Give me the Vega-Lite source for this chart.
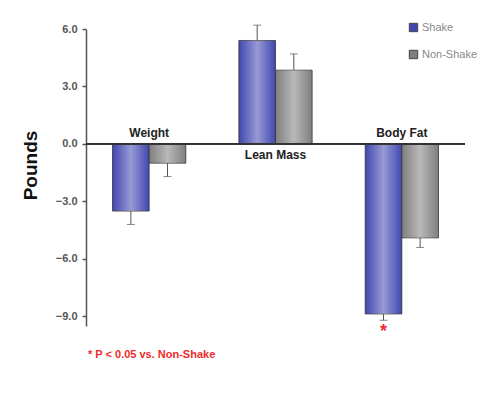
{
  "$schema": "https://vega.github.io/schema/vega-lite/v6.json",
  "width": 379,
  "height": 297,
  "autosize": "none",
  "padding": {"left": 86, "top": 29, "right": 33, "bottom": 70},
  "background": "white",
  "config": {
    "font": "Liberation Sans",
    "view": {"stroke": null}
  },
  "title": {
    "text": "* P < 0.05 vs. Non-Shake",
    "orient": "bottom",
    "anchor": "start",
    "frame": "group",
    "color": "#ee2b2b",
    "fontSize": 11,
    "fontWeight": "bold",
    "offset": 8,
    "dx": 2,
    "font": "Liberation Sans"
  },
  "data": {
    "values": [
      {"measure": "Weight", "group": "Shake", "value": -3.5, "err": -4.2, "sig": ""},
      {"measure": "Weight", "group": "Non-Shake", "value": -1.0, "err": -1.7, "sig": ""},
      {"measure": "Lean Mass", "group": "Shake", "value": 5.4, "err": 6.2, "sig": ""},
      {"measure": "Lean Mass", "group": "Non-Shake", "value": 3.85, "err": 4.7, "sig": ""},
      {"measure": "Body Fat", "group": "Shake", "value": -8.87, "err": -9.2, "sig": "*"},
      {"measure": "Body Fat", "group": "Non-Shake", "value": -4.9, "err": -5.4, "sig": ""}
    ]
  },
  "encoding": {
    "x": {
      "field": "measure",
      "type": "nominal",
      "sort": ["Weight", "Lean Mass", "Body Fat"],
      "scale": {"paddingInner": 0.42, "paddingOuter": 0.21},
      "axis": null
    },
    "y": {
      "field": "value",
      "type": "quantitative",
      "scale": {"domain": [-9.5, 6], "nice": false, "zero": false},
      "axis": {
        "title": "Pounds",
        "values": [-9, -6, -3, 0, 3, 6],
        "format": ".1f",
        "grid": false,
        "domainColor": "#555",
        "domainWidth": 1.5,
        "tickColor": "#555",
        "tickSize": 4,
        "tickWidth": 1.5,
        "labelColor": "#555",
        "labelFontSize": 11,
        "labelFontWeight": "bold",
        "labelPadding": 5,
        "titleFontSize": 19,
        "titleFontWeight": "bold",
        "titleColor": "#111",
        "titleAngle": 270,
        "titleX": -56,
        "titleY": 136,
        "titleAlign": "center",
        "titleBaseline": "middle"
      }
    }
  },
  "layer": [
    {
      "mark": {"type": "bar", "stroke": "#333", "strokeWidth": 0.8},
      "encoding": {
        "xOffset": {"field": "group", "type": "nominal", "sort": ["Shake", "Non-Shake"], "scale": {"paddingInner": 0}},
        "color": {
          "field": "group",
          "type": "nominal",
          "sort": ["Shake", "Non-Shake"],
          "scale": {"domain": ["Shake", "Non-Shake"], "range": ["#4247b0", "#7f7f7f"]},
          "legend": {
            "title": null,
            "orient": "none",
            "legendX": 322,
            "legendY": -7,
            "symbolType": "square",
            "symbolSize": 70,
            "symbolStrokeColor": "#444",
            "symbolStrokeWidth": 1,
            "labelFontSize": 11,
            "labelColor": "#8a8a8a",
            "rowPadding": 14,
            "labelOffset": 3
          }
        }
      }
    },
    {
      "mark": {
        "type": "bar",
        "fill": {
          "gradient": "linear",
          "x1": 0, "x2": 1, "y1": 0, "y2": 0,
          "stops": [
            {"offset": 0, "color": "rgba(255,255,255,0)"},
            {"offset": 0.5, "color": "rgba(255,255,255,0.45)"},
            {"offset": 1, "color": "rgba(255,255,255,0)"}
          ]
        }
      },
      "encoding": {
        "xOffset": {"field": "group", "type": "nominal", "sort": ["Shake", "Non-Shake"], "scale": {"paddingInner": 0}}
      }
    },
    {
      "mark": {"type": "rule", "color": "#333", "strokeWidth": 1.3},
      "encoding": {"y": {"datum": 0}, "x": null}
    },
    {
      "mark": {"type": "rule", "color": "#555", "strokeWidth": 1},
      "encoding": {
        "xOffset": {"field": "group", "type": "nominal", "sort": ["Shake", "Non-Shake"], "scale": {"paddingInner": 0}},
        "y2": {"field": "err"}
      }
    },
    {
      "mark": {"type": "tick", "color": "#555", "size": 8, "thickness": 1},
      "encoding": {
        "xOffset": {"field": "group", "type": "nominal", "sort": ["Shake", "Non-Shake"], "scale": {"paddingInner": 0}},
        "y": {"field": "err", "type": "quantitative"}
      }
    },
    {
      "transform": [{"filter": "datum.group == 'Shake' && datum.measure != 'Lean Mass'"}],
      "mark": {"type": "text", "fontWeight": "bold", "fontSize": 12, "color": "#222", "baseline": "bottom", "dy": -4},
      "encoding": {
        "y": {"datum": 0},
        "text": {"field": "measure"}
      }
    },
    {
      "transform": [{"filter": "datum.group == 'Shake' && datum.measure == 'Lean Mass'"}],
      "mark": {"type": "text", "fontWeight": "bold", "fontSize": 12, "color": "#222", "baseline": "top", "dy": 6},
      "encoding": {
        "y": {"datum": 0},
        "text": {"field": "measure"}
      }
    },
    {
      "transform": [{"filter": "datum.sig != ''"}],
      "mark": {"type": "text", "fontWeight": "bold", "fontSize": 18, "color": "#ee2b2b", "baseline": "top", "dy": 3},
      "encoding": {
        "xOffset": {"field": "group", "type": "nominal", "sort": ["Shake", "Non-Shake"], "scale": {"paddingInner": 0}},
        "y": {"field": "err", "type": "quantitative"},
        "text": {"field": "sig"}
      }
    }
  ]
}
